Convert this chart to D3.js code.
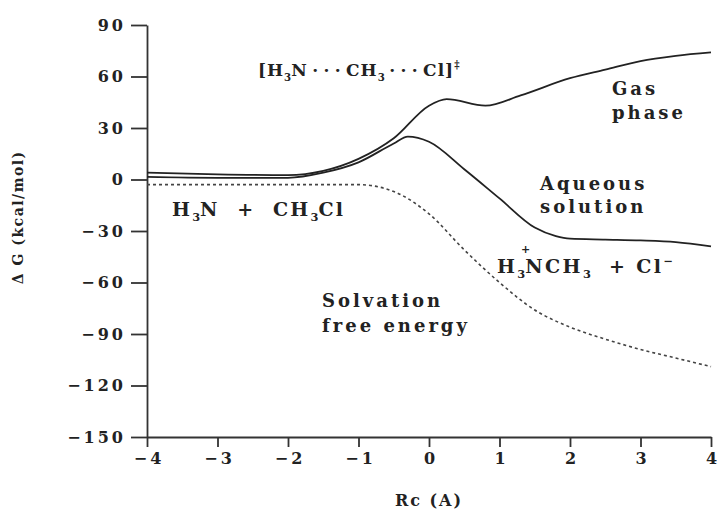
<!DOCTYPE html>
<meta charset="utf-8">
<script src="https://d3js.org/d3.v7.min.js"></script>
<style>
  body { margin: 0; background: #fff; }
  text { font-family: "DejaVu Serif", serif; font-weight: bold; fill: #222; }
</style>
<div id="my_dataviz"></div>
<script>

// values
var xTicks = [-4, -3, -2, -1, 0, 1, 2, 3, 4];
var yTicks = [90, 60, 30, 0, -30, -60, -90, -120, -150];

var gasRc = [-4, -3, -2, -1.5, -1, -0.5, 0, 0.25, 0.8, 1.3, 2, 2.5, 3, 3.5, 4];
var gasG  = [4, 3, 2.5, 5, 12, 24, 43, 46.8, 43, 49, 59, 64, 69, 72, 74];

var aqRc = [-4, -3, -2, -1.5, -1, -0.5, -0.3, 0, 0.5, 1, 1.5, 1.8, 2, 2.5, 3, 3.5, 4];
var aqG  = [1.5, 1, 1, 4, 10, 21, 25, 22, 6, -11, -28, -33, -34.5, -35, -35.5, -36.5, -39];

var solvRc = [-4, -3, -2, -1, -0.5, 0, 0.5, 1, 1.5, 2, 2.5, 3, 3.5, 4];
var solvG  = [-3, -3, -3, -3, -7, -20, -41, -60, -76, -86, -93, -99, -104, -109];

var margin = {top: 25, right: 8, bottom: 77, left: 147},
    width = 719 - margin.left - margin.right,
    height = 514 - margin.top - margin.bottom;

var svg = d3.select("#my_dataviz")
  .append("svg")
    .attr("width", 719)
    .attr("height", 514)
  .append("g")
    .attr("transform", "translate(" + margin.left + "," + margin.top + ")");

var x = d3.scaleLinear().domain([-4, 4]).range([0, width]);
var y = d3.scaleLinear().domain([-150, 90]).range([height, 0]);

// axes
var xAxis = svg.append("g")
  .attr("transform", "translate(0," + height + ")")
  .call(d3.axisBottom(x).tickValues(xTicks).tickSize(10).tickSizeOuter(0).tickPadding(6));
var yAxis = svg.append("g")
  .call(d3.axisLeft(y).tickValues(yTicks).tickSize(16).tickSizeOuter(0).tickPadding(8));

[xAxis, yAxis].forEach(function(a) {
  a.selectAll("path, line").attr("stroke", "#333").attr("stroke-width", 1.8);
  a.selectAll("text")
    .style("font-family", "DejaVu Serif, serif")
    .style("font-weight", "bold")
    .style("font-size", "16px")
    .style("letter-spacing", "3px")
    .attr("fill", "#222");
});
// letter-spacing adds trailing space on the right; nudge labels
yAxis.selectAll("text").attr("dx", 3);
xAxis.selectAll("text").attr("dx", 1.5);

// axis titles
svg.append("text")
  .attr("x", width / 2)
  .attr("y", height + 69)
  .attr("text-anchor", "middle")
  .style("font-size", "16px")
  .style("letter-spacing", "2px")
  .text("Rc (A)");

svg.append("text")
  .attr("transform", "rotate(-90)")
  .attr("x", -(y(-22)))
  .attr("y", -124)
  .attr("text-anchor", "middle")
  .style("font-size", "14px")
  .style("letter-spacing", "1.5px")
  .text("\u0394 G (kcal/mol)");

// curves
function series(rc, g) {
  return rc.map(function(d, i) { return {rc: d, g: g[i]}; });
}
var line = d3.line()
  .x(function(d) { return x(d.rc); })
  .y(function(d) { return y(d.g); })
  .curve(d3.curveMonotoneX);

svg.append("path")
  .datum(series(gasRc, gasG))
  .attr("fill", "none").attr("stroke", "#222").attr("stroke-width", 1.8)
  .attr("d", line);
svg.append("path")
  .datum(series(aqRc, aqG))
  .attr("fill", "none").attr("stroke", "#222").attr("stroke-width", 1.8)
  .attr("d", line);
svg.append("path")
  .datum(series(solvRc, solvG))
  .attr("fill", "none").attr("stroke", "#444").attr("stroke-width", 1.6)
  .attr("stroke-dasharray", "3,3")
  .attr("d", line);

// labels (page coordinates)
var lab = d3.select("svg").append("g");
function rich(px, py, parts, size, ls) {
  var t = lab.append("text").attr("x", px).attr("y", py)
    .style("font-size", size + "px").style("letter-spacing", (ls == null ? 3 : ls) + "px");
  var shift = 0;
  parts.forEach(function(p) {
    var s = t.append("tspan").text(p[0]);
    var target = p[1] === "sub" ? 5 : p[1] === "sup" ? -8 : 0;
    if (target !== shift) { s.attr("dy", target - shift); shift = target; }
    if (p[1] !== "n") s.style("font-size", (size * 0.6) + "px").style("letter-spacing", "0px");
    if (p[2]) s.attr("dx", p[2]);
  });
  return t;
}

var dots = "\u2009\u00b7\u2009\u00b7\u2009\u00b7\u2009";
rich(258, 76, [["[H", "n"], ["3", "sub"], ["N" + dots + "CH", "n"], ["3", "sub"], [dots + "Cl]", "n"], ["\u2021", "sup"]], 17, 1);
rich(612, 95, [["Gas", "n"]], 18);
rich(612, 119, [["phase", "n"]], 18);
rich(540, 190, [["Aqueous", "n"]], 18);
rich(540, 213, [["solution", "n"]], 18);
rich(172, 216, [["H", "n"], ["3", "sub"], ["N\u00a0\u00a0+\u00a0\u00a0CH", "n"], ["3", "sub"], ["Cl", "n"]], 19, 2.2);
rich(497, 273, [["H", "n"], ["3", "sub"], ["NCH", "n"], ["3", "sub"], ["\u00a0\u00a0+\u00a0Cl", "n"], ["\u2212", "sup"]], 19, 2.4);
// the "+" charge sits above the N
lab.append("text").attr("x", 521).attr("y", 253)
  .style("font-size", "11px").text("+");
rich(322, 307, [["Solvation", "n"]], 18);
rich(322, 332, [["free energy", "n"]], 18);

</script>
